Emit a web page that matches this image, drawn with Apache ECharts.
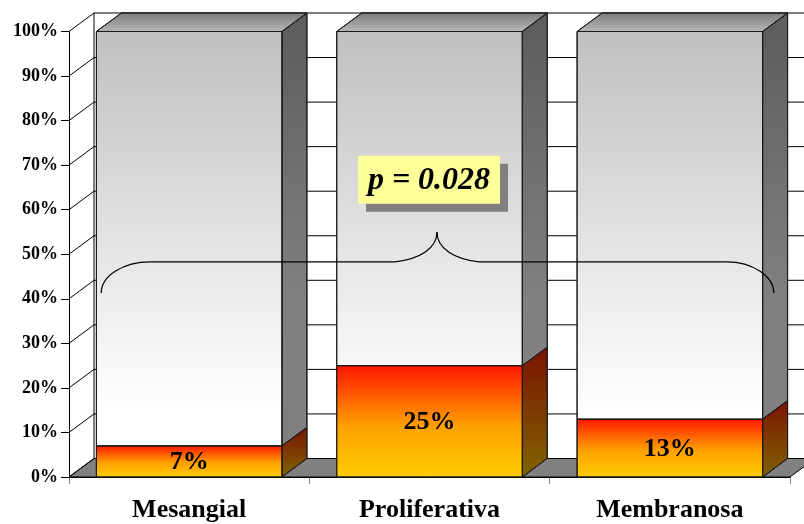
<!DOCTYPE html>
<html>
<head>
<meta charset="utf-8">
<script src="https://cdn.jsdelivr.net/npm/echarts@6/dist/echarts.min.js"></script>
<style>
  html, body { margin: 0; padding: 0; background: #ffffff; }
  #chart { width: 804px; height: 524px; }
</style>
</head>
<body>
<div id="chart"></div>
<script>
// Categories and values (percent of each group)
const categorias = ['Mesangial', 'Proliferativa', 'Membranosa'];
const positivos = [7, 25, 13];
const restantes = [93, 75, 87];
const marcasEje = [0, 10, 20, 30, 40, 50, 60, 70, 80, 90, 100];
const textoP = 'p = 0.028';

// 3D depth of the plot box (pixels)
const DX = 25;
const DY = 18.5;
const BAR_RATIO = 0.772;
const SERIF = '"Liberation Serif", "Times New Roman", serif';

const chart = echarts.init(document.getElementById('chart'), null, { renderer: 'canvas' });

// Back wall grid lines, depth diagonals and floor
function renderWall(params, api) {
  const v = api.value(1);
  const p = api.coord([0, v]);
  const y0 = api.coord([0, 0])[1];
  const cs = params.coordSys;
  const left = cs.x, right = cs.x + cs.width;
  const y = p[1];
  const children = [];
  if (v === 0) {
    children.push({
      type: 'polygon',
      shape: { points: [[left, y], [right, y], [right + DX, y - DY], [left + DX, y - DY]] },
      style: { fill: '#808080', stroke: '#000', lineWidth: 1 }
    });
  }
  children.push({
    type: 'line',
    shape: { x1: left, y1: y, x2: left + DX, y2: y - DY },
    style: { stroke: '#000', lineWidth: 1 }
  });
  children.push({
    type: 'line',
    shape: { x1: left + DX, y1: y - DY, x2: right + DX + 40, y2: y - DY },
    style: { stroke: '#000', lineWidth: 1 }
  });
  if (v === marcasEje[marcasEje.length - 1]) {
    children.push({
      type: 'line',
      shape: { x1: left + DX, y1: y - DY, x2: left + DX, y2: y0 - DY },
      style: { stroke: '#000', lineWidth: 1 }
    });
  }
  return { type: 'group', children };
}

// One stacked 3D bar segment: front face, side face, optional top and label
function makeSegmentRenderer(kind) {
  return function (params, api) {
    const i = api.value(0);
    const lo = api.value(1);
    const hi = api.value(2);
    const b = api.coord([i, lo]);
    const t = api.coord([i, hi]);
    const yFull = api.coord([i, 100])[1];
    const yZero = api.coord([i, 0])[1];
    const bw = api.size([1, 0])[0] * BAR_RATIO;
    const x0 = b[0] - bw / 2, x1 = b[0] + bw / 2;
    const yb = b[1], yt = t[1];
    const children = [];
    let frontFill, sideFill;
    if (kind === 'pos') {
      frontFill = new echarts.graphic.LinearGradient(0, 0, 0, 1, [
        { offset: 0, color: '#ff1400' },
        { offset: 0.3, color: '#ff6400' },
        { offset: 0.55, color: '#ffa200' },
        { offset: 1, color: '#ffcc00' }
      ]);
      sideFill = new echarts.graphic.LinearGradient(0, 0, 0, 1, [
        { offset: 0, color: '#7a1200' },
        { offset: 1, color: '#806400' }
      ]);
    } else {
      frontFill = new echarts.graphic.LinearGradient(0, yFull, 0, yZero, [
        { offset: 0, color: '#c0c0c0' },
        { offset: 0.85, color: '#ffffff' },
        { offset: 1, color: '#ffffff' }
      ], true);
      sideFill = new echarts.graphic.LinearGradient(0, yFull, 0, yZero, [
        { offset: 0, color: '#5e5e5e' },
        { offset: 0.6, color: '#808080' },
        { offset: 1, color: '#808080' }
      ], true);
    }
    children.push({
      type: 'polygon',
      shape: { points: [[x1, yb], [x1, yt], [x1 + DX, yt - DY], [x1 + DX, yb - DY]] },
      style: { fill: sideFill, stroke: '#1a1a1a', lineWidth: 1 }
    });
    if (kind === 'rest') {
      children.push({
        type: 'polygon',
        shape: { points: [[x0, yt], [x1, yt], [x1 + DX, yt - DY], [x0 + DX, yt - DY]] },
        style: {
          fill: new echarts.graphic.LinearGradient(0, 0, 0, 1, [
            { offset: 0, color: '#7c7c7c' },
            { offset: 1, color: '#b8b8b8' }
          ]),
          stroke: '#1a1a1a', lineWidth: 1
        }
      });
    }
    children.push({
      type: 'rect',
      shape: { x: x0, y: yt, width: bw, height: yb - yt },
      style: { fill: frontFill, stroke: '#1a1a1a', lineWidth: 1 }
    });
    if (kind === 'pos') {
      children.push({
        type: 'text',
        style: {
          text: (hi - lo) + '%',
          x: b[0], y: (yb + yt) / 2 + 1,
          align: 'center', verticalAlign: 'middle',
          font: 'bold 26px ' + SERIF,
          fill: '#000'
        }
      });
    }
    return { type: 'group', children };
  };
}

const datosPos = categorias.map((c, i) => [i, 0, positivos[i]]);
const datosResto = categorias.map((c, i) => [i, positivos[i], positivos[i] + restantes[i]]);

chart.setOption({
  animation: false,
  backgroundColor: '#ffffff',
  grid: { left: 69, right: 14, top: 31.5, bottom: 47, containLabel: false },
  xAxis: {
    type: 'category',
    data: categorias,
    boundaryGap: true,
    axisLine: { show: true, lineStyle: { color: '#000', width: 1 } },
    axisTick: { show: true, length: 7, lineStyle: { color: '#808080' } },
    axisLabel: {
      margin: 20,
      fontFamily: SERIF, fontWeight: 'bold', fontSize: 26, color: '#000'
    },
    splitLine: { show: false }
  },
  yAxis: {
    type: 'value',
    min: 0, max: 100, interval: 10,
    axisLine: { show: true, lineStyle: { color: '#000', width: 1 } },
    axisTick: { show: true, length: 8, lineStyle: { color: '#000' } },
    axisLabel: {
      margin: 11,
      formatter: '{value}%',
      fontFamily: SERIF, fontWeight: 'bold', fontSize: 18, color: '#000'
    },
    splitLine: { show: false }
  },
  series: [
    {
      type: 'custom', name: 'pared', clip: false, z: 1,
      renderItem: renderWall,
      data: marcasEje.map(v => [0, v]),
      encode: { x: 0, y: 1 }
    },
    {
      type: 'custom', name: 'positivos', clip: false, z: 3,
      renderItem: makeSegmentRenderer('pos'),
      data: datosPos,
      encode: { x: 0, y: [1, 2] }
    },
    {
      type: 'custom', name: 'restantes', clip: false, z: 4,
      renderItem: makeSegmentRenderer('rest'),
      data: datosResto,
      encode: { x: 0, y: [1, 2] }
    }
  ]
});

// Brace spanning the three groups and the p-value note
function drawAnnotations() {
  const px = (i, v) => chart.convertToPixel({ gridIndex: 0 }, [i, v]);
  const band = px(1, 0)[0] - px(0, 0)[0];
  const yEnd = px(0, 41.3)[1];
  const yLine = px(0, 48.3)[1];
  const yPeak = px(0, 55)[1];
  const L = px(0, 0)[0] - 0.366 * band;
  const R = px(2, 0)[0] + 0.433 * band;
  const C = px(1, 0)[0] + 0.031 * band;
  const dy = yEnd - yLine;
  const ph = yLine - yPeak;
  const ls = { stroke: '#000', lineWidth: 1.2, fill: null };
  const brace = [
    { type: 'bezierCurve', shape: { x1: L, y1: yEnd, cpx1: L, cpy1: yEnd - dy * 0.55, cpx2: L + 22, cpy2: yLine, x2: L + 49, y2: yLine } },
    { type: 'line', shape: { x1: L + 49, y1: yLine, x2: C - 42, y2: yLine } },
    { type: 'bezierCurve', shape: { x1: C - 42, y1: yLine, cpx1: C - 17, cpy1: yLine - ph * 0.1, cpx2: C, cpy2: yLine - ph * 0.45, x2: C, y2: yPeak } },
    { type: 'bezierCurve', shape: { x1: C, y1: yPeak, cpx1: C, cpy1: yLine - ph * 0.45, cpx2: C + 17, cpy2: yLine - ph * 0.1, x2: C + 42, y2: yLine } },
    { type: 'line', shape: { x1: C + 42, y1: yLine, x2: R - 47, y2: yLine } },
    { type: 'bezierCurve', shape: { x1: R - 47, y1: yLine, cpx1: R - 22, cpy1: yLine, cpx2: R, cpy2: yEnd - dy * 0.55, x2: R, y2: yEnd } }
  ].map(el => Object.assign(el, { z: 100, style: ls }));
  const boxW = 142, boxH = 48;
  const bc = px(1, 66.7);
  const bx = bc[0] - 0.5 - boxW / 2, by = bc[1] - boxH / 2;
  chart.setOption({
    graphic: brace.concat([
      {
        type: 'rect', z: 100,
        shape: { x: bx + 8, y: by + 8, width: boxW, height: boxH },
        style: { fill: '#808080' }
      },
      {
        type: 'rect', z: 101,
        shape: { x: bx, y: by, width: boxW, height: boxH },
        style: { fill: '#ffff99' }
      },
      {
        type: 'text', z: 102,
        x: bx + boxW / 2, y: by + boxH / 2 + 1,
        style: {
          text: textoP,
          align: 'center', verticalAlign: 'middle',
          font: 'italic bold 32px ' + SERIF,
          fill: '#000'
        }
      }
    ])
  });
}
drawAnnotations();
</script>
</body>
</html>
